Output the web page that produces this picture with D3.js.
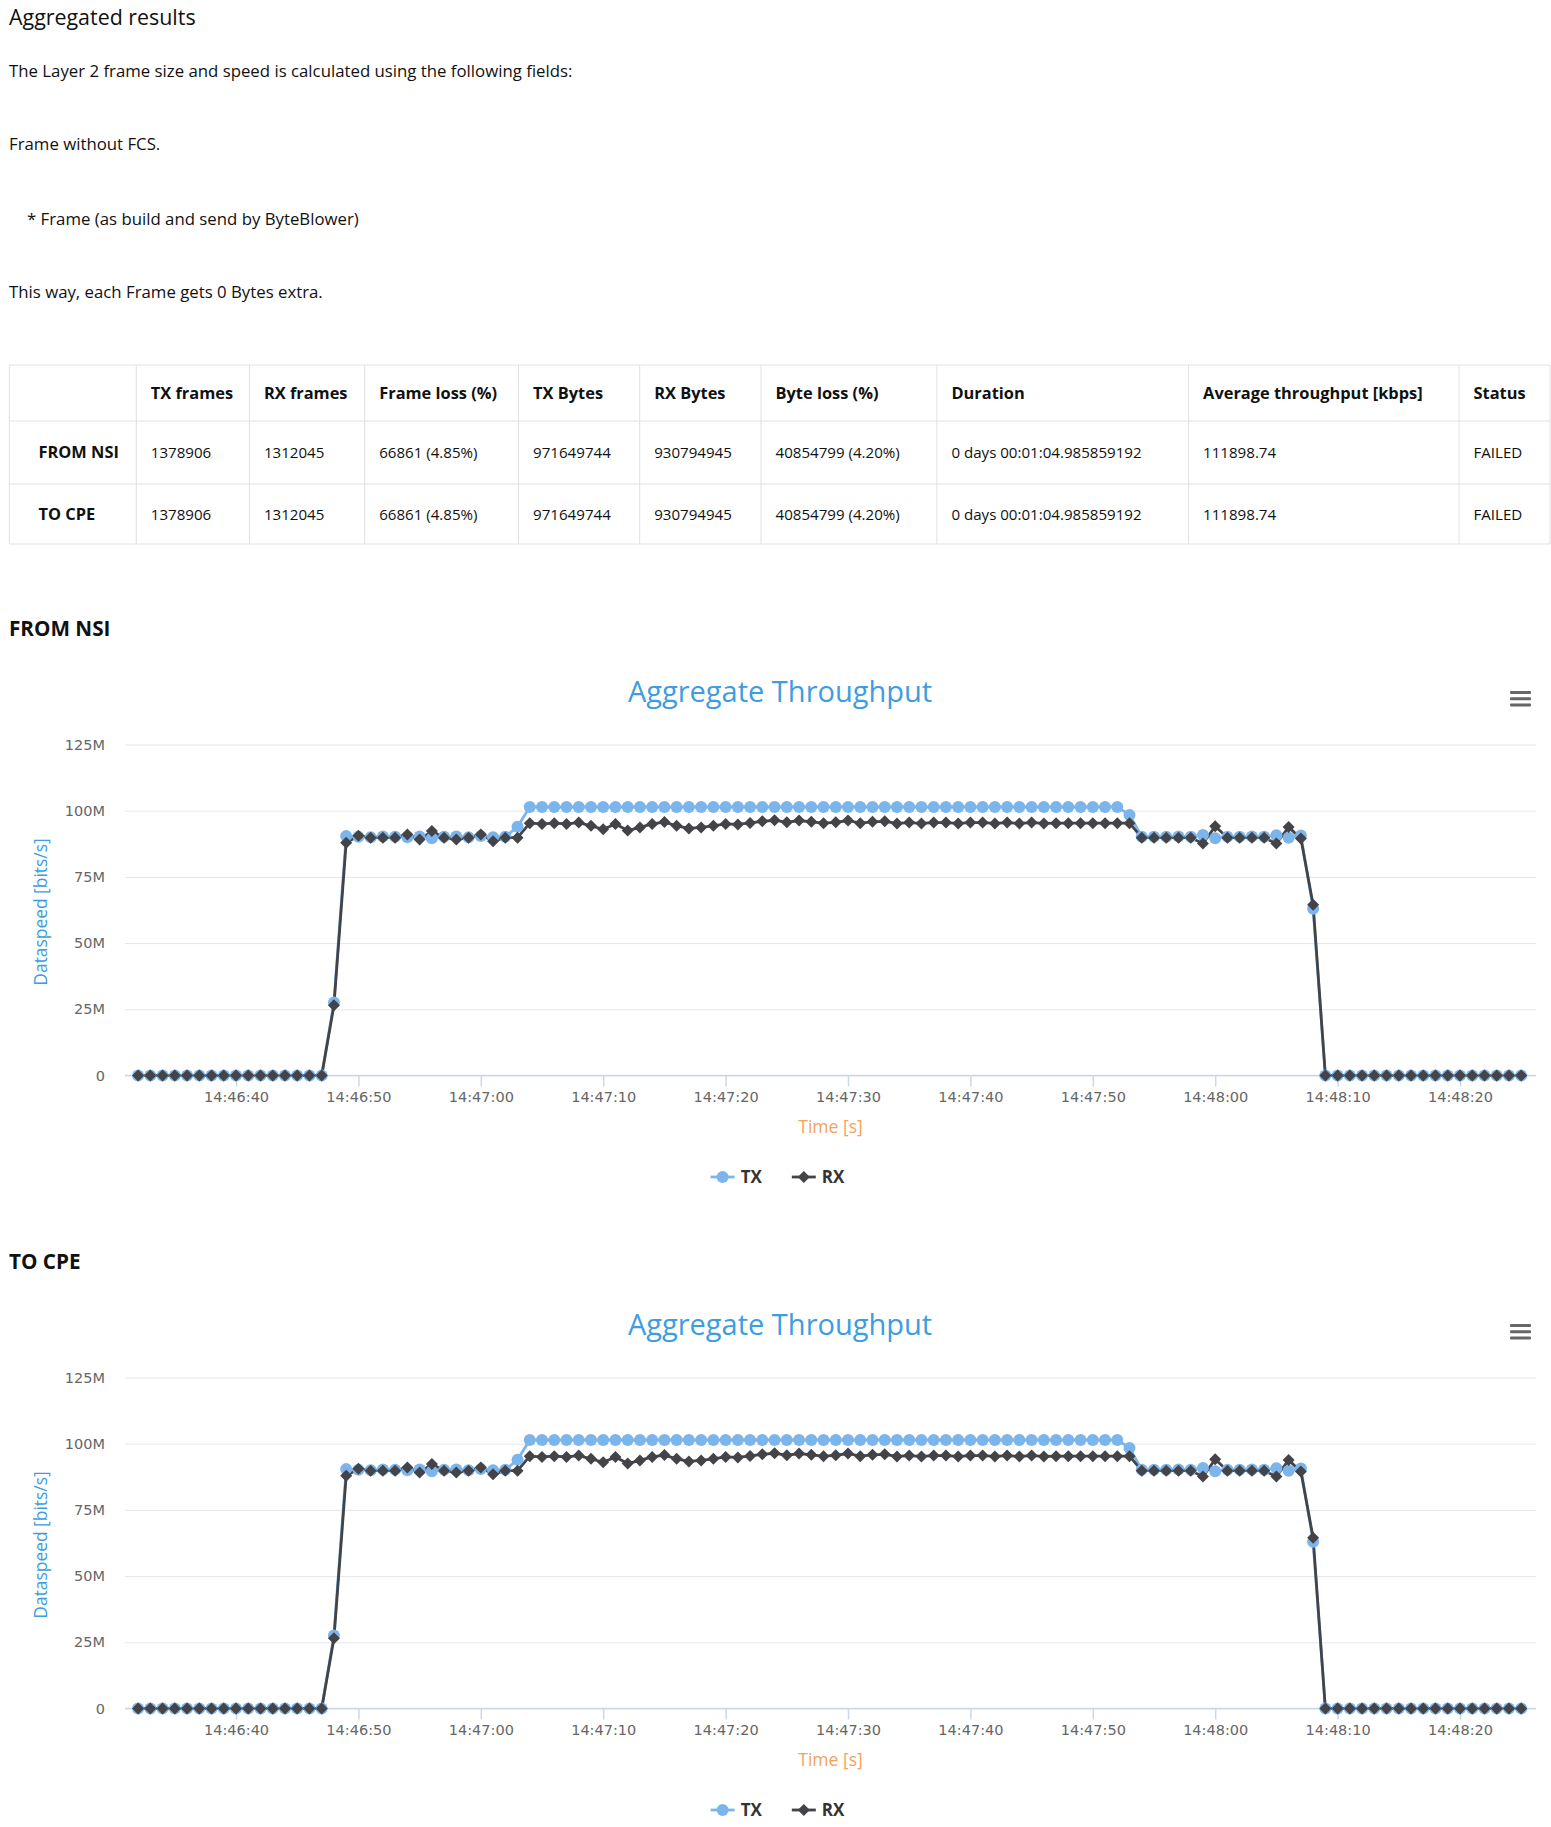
<!DOCTYPE html>
<html><head><meta charset="utf-8">
<script src="https://cdn.jsdelivr.net/npm/d3@7"></script>
<style>
html,body{margin:0;padding:0;background:#fff;}
svg{display:block;}
</style></head><body>
<svg id="page" width="1551" height="1827"></svg>
<script>
// ---------- data ----------
const pageHeading = "Aggregated results";
const introLines = [
  "The Layer 2 frame size and speed is calculated using the following fields:",
  "Frame without FCS.",
  "* Frame (as build and send by ByteBlower)",
  "This way, each Frame gets 0 Bytes extra."
];
const tableHeaders = ["", "TX frames", "RX frames", "Frame loss (%)", "TX Bytes", "RX Bytes", "Byte loss (%)", "Duration", "Average throughput [kbps]", "Status"];
const tableRows = [
  ["FROM NSI", "1378906", "1312045", "66861 (4.85%)", "971649744", "930794945", "40854799 (4.20%)", "0 days 00:01:04.985859192", "111898.74", "FAILED"],
  ["TO CPE", "1378906", "1312045", "66861 (4.85%)", "971649744", "930794945", "40854799 (4.20%)", "0 days 00:01:04.985859192", "111898.74", "FAILED"]
];
const sectionNames = ["FROM NSI", "TO CPE"];
const chartTitle = "Aggregate Throughput";
const yAxisTitle = "Dataspeed [bits/s]";
const xAxisTitle = "Time [s]";
const seriesNames = ["TX", "RX"];
const seriesColors = ["#7cb5ec", "#434348"];
const yTickValues = [0, 25, 50, 75, 100, 125];
const yTickLabels = ["0", "25M", "50M", "75M", "100M", "125M"];
const xTickLabels = ["14:46:40", "14:46:50", "14:47:00", "14:47:10", "14:47:20", "14:47:30", "14:47:40", "14:47:50", "14:48:00", "14:48:10", "14:48:20"];
const times = [
  "14:46:32","14:46:33","14:46:34","14:46:35","14:46:36","14:46:37","14:46:38","14:46:39","14:46:40","14:46:41",
  "14:46:42","14:46:43","14:46:44","14:46:45","14:46:46","14:46:47","14:46:48","14:46:49","14:46:50","14:46:51",
  "14:46:52","14:46:53","14:46:54","14:46:55","14:46:56","14:46:57","14:46:58","14:46:59","14:47:00","14:47:01",
  "14:47:02","14:47:03","14:47:04","14:47:05","14:47:06","14:47:07","14:47:08","14:47:09","14:47:10","14:47:11",
  "14:47:12","14:47:13","14:47:14","14:47:15","14:47:16","14:47:17","14:47:18","14:47:19","14:47:20","14:47:21",
  "14:47:22","14:47:23","14:47:24","14:47:25","14:47:26","14:47:27","14:47:28","14:47:29","14:47:30","14:47:31",
  "14:47:32","14:47:33","14:47:34","14:47:35","14:47:36","14:47:37","14:47:38","14:47:39","14:47:40","14:47:41",
  "14:47:42","14:47:43","14:47:44","14:47:45","14:47:46","14:47:47","14:47:48","14:47:49","14:47:50","14:47:51",
  "14:47:52","14:47:53","14:47:54","14:47:55","14:47:56","14:47:57","14:47:58","14:47:59","14:48:00","14:48:01",
  "14:48:02","14:48:03","14:48:04","14:48:05","14:48:06","14:48:07","14:48:08","14:48:09","14:48:10","14:48:11",
  "14:48:12","14:48:13","14:48:14","14:48:15","14:48:16","14:48:17","14:48:18","14:48:19","14:48:20","14:48:21",
  "14:48:22","14:48:23","14:48:24","14:48:25"
];
// values in Mbit/s
const txValues = [
  0,0,0,0,0,0,0,0,0,0,0,0,0,0,0,0,
  27.6, 90.4,
  90.2,90.0,90.3,90.2,90.0,90.3,89.6,90.2,90.3,90.0,90.4,90.0,90.2,
  93.9,
  101.4,101.4,101.4,101.4,101.4,101.4,101.4,101.4,101.4,101.4,
  101.4,101.4,101.4,101.4,101.4,101.4,101.4,101.4,101.4,101.4,
  101.4,101.4,101.4,101.4,101.4,101.4,101.4,101.4,101.4,101.4,
  101.4,101.4,101.4,101.4,101.4,101.4,101.4,101.4,101.4,101.4,
  101.4,101.4,101.4,101.4,101.4,101.4,101.4,101.4,101.4,
  98.4,
  90.2,90.2,90.2,90.3,90.2,90.8,89.6,90.2,90.2,90.3,90.2,90.7,89.8,90.6,
  63.0,
  0,0,0,0,0,0,0,0,0,0,0,0,0,0,0,0,0
];
const rxValues = [
  0,0,0,0,0,0,0,0,0,0,0,0,0,0,0,0,
  26.5, 87.9,
  90.5,89.8,89.8,89.8,91.0,89.1,92.3,89.8,89.1,89.8,91.0,88.5,89.8,
  89.8,
  95.3,95.0,95.3,95.0,95.5,94.3,93.0,95.0,92.5,93.7,
  95.0,95.7,94.3,93.3,93.7,94.3,95.0,94.8,95.4,96.0,
  96.4,95.6,96.3,95.8,95.3,95.6,96.3,95.3,95.8,96.0,
  95.2,95.5,95.2,95.5,95.5,95.2,95.5,95.5,95.2,95.5,
  95.2,95.5,95.2,95.3,95.3,95.3,95.3,95.3,95.3,
  95.3,
  89.8,89.8,89.8,89.8,89.8,87.6,94.1,89.8,89.8,89.8,89.8,87.6,93.8,89.5,
  64.5,
  0,0,0,0,0,0,0,0,0,0,0,0,0,0,0,0,0
];

// ---------- drawing ----------
const svg = d3.select("#page");
const TEXT = "#111";
const BODY_FONT = "'Open Sans', sans-serif";
const AXIS_FONT = "'DejaVu Sans', sans-serif";

// heading + intro text
svg.append("text").attr("x", 9).attr("y", 25)
  .attr("font-family", BODY_FONT).attr("font-size", 21.4).attr("font-weight", 500).attr("fill", TEXT)
  .text(pageHeading);
const introBaselines = [76.5, 150, 224.5, 298];
const introX = [9, 9, 27, 9];
svg.selectAll("text.intro").data(introLines).join("text")
  .attr("class", "intro")
  .attr("x", (d, i) => introX[i]).attr("y", (d, i) => introBaselines[i])
  .attr("font-family", BODY_FONT).attr("font-size", 16.8).attr("fill", TEXT)
  .text(d => d);

// table
const colEdges = [9.3, 136.3, 249.4, 364.7, 518.6, 639.7, 761, 936.9, 1188.6, 1459, 1550];
const rowEdges = [365, 421, 484, 544];
const tbl = svg.append("g");
tbl.selectAll("line.h").data(rowEdges).join("line")
  .attr("x1", colEdges[0]).attr("x2", colEdges[colEdges.length - 1])
  .attr("y1", d => d).attr("y2", d => d)
  .attr("stroke", "#dee2e6").attr("stroke-width", 1);
tbl.selectAll("line.v").data(colEdges).join("line")
  .attr("x1", d => d).attr("x2", d => d)
  .attr("y1", rowEdges[0]).attr("y2", rowEdges[rowEdges.length - 1])
  .attr("stroke", "#dee2e6").attr("stroke-width", 1);
const allRows = [tableHeaders].concat(tableRows);
allRows.forEach((row, ri) => {
  const cy = (rowEdges[ri] + rowEdges[ri + 1]) / 2;
  row.forEach((cell, ci) => {
    if (!cell) return;
    const bold = ri === 0 || ci === 0;
    const x = ci === 0 ? 38.5 : colEdges[ci] + 14.5;
    tbl.append("text").attr("x", x).attr("y", cy + 5.6)
      .attr("font-family", BODY_FONT).attr("font-size", bold ? 16.4 : 15.1)
      .attr("font-weight", bold ? 700 : 400).attr("fill", TEXT)
      .text(cell);
  });
});

// charts
const parseT = d3.timeParse("%H:%M:%S");
const points = times.map((t, i) => ({ t: parseT(t), tx: txValues[i], rx: rxValues[i] }));

function drawChart(offsetY, sectionName) {
  const g = svg.append("g").attr("transform", `translate(0,${offsetY})`);
  g.append("text").attr("x", 9).attr("y", 635.5)
    .attr("font-family", BODY_FONT).attr("font-size", 20.7).attr("font-weight", 700).attr("fill", "#111")
    .text(sectionName);

  const plot = { left: 125, right: 1536, top: 744.5, bottom: 1075.5 };
  const x = d3.scaleTime().domain(d3.extent(points, d => d.t)).range([138.1, 1521.2]);
  const y = d3.scaleLinear().domain([0, 125]).range([plot.bottom, plot.top]);

  // title
  g.append("text").attr("x", 780).attr("y", 702).attr("text-anchor", "middle")
    .attr("font-family", BODY_FONT).attr("font-size", 29).attr("fill", "#3d9de0")
    .text(chartTitle);

  // menu button
  g.selectAll("rect.menu").data([0, 1, 2]).join("rect")
    .attr("x", 1510).attr("y", d => 691 + d * 6.2).attr("width", 21).attr("height", 3)
    .attr("rx", 1).attr("fill", "#666");

  // y grid + labels
  const yg = g.append("g").attr("transform", `translate(${plot.left},0)`)
    .call(d3.axisLeft(y).tickValues(yTickValues).tickFormat((d, i) => yTickLabels[i])
      .tickSize(-(plot.right - plot.left)).tickPadding(20));
  yg.select(".domain").remove();
  yg.selectAll(".tick line").attr("stroke", "#e6e6e6");
  yg.selectAll(".tick text").attr("fill", "#666").attr("font-family", AXIS_FONT).attr("font-size", 14.5);

  // y title
  g.append("text")
    .attr("transform", `translate(46.5,${(plot.top + plot.bottom) / 2 + 2}) rotate(-90)`)
    .attr("text-anchor", "middle")
    .attr("font-family", BODY_FONT).attr("font-size", 17.4).attr("fill", "#3d9de0")
    .text(yAxisTitle);

  // x axis line
  g.append("line").attr("x1", plot.left).attr("x2", plot.right)
    .attr("y1", plot.bottom).attr("y2", plot.bottom).attr("stroke", "#ccd6eb").attr("stroke-width", 1.5);
  const xg = g.append("g").attr("transform", `translate(0,${plot.bottom})`)
    .call(d3.axisBottom(x).tickValues(xTickLabels.map(parseT)).tickFormat((d, i) => xTickLabels[i])
      .tickSizeOuter(0).tickSize(11).tickPadding(5));
  xg.select(".domain").remove();
  xg.selectAll(".tick line").attr("stroke", "#ccd6eb").attr("stroke-width", 1.5);
  xg.selectAll(".tick text").attr("fill", "#666").attr("font-family", AXIS_FONT).attr("font-size", 14.5);

  // x title
  g.append("text").attr("x", (plot.left + plot.right) / 2).attr("y", 1132.5).attr("text-anchor", "middle")
    .attr("font-family", BODY_FONT).attr("font-size", 17.5).attr("fill", "#f4a25b")
    .text(xAxisTitle);

  // series
  const keys = ["tx", "rx"];
  const R = 6;
  keys.forEach((k, si) => {
    const line = d3.line().x(d => x(d.t)).y(d => y(d[k]));
    g.append("path").datum(points).attr("d", line)
      .attr("fill", "none").attr("stroke", seriesColors[si]).attr("stroke-width", 2.8)
      .attr("stroke-linejoin", "round").attr("stroke-linecap", "round");
  });
  keys.forEach((k, si) => {
    const mg = g.append("g");
    if (si === 0) {
      mg.selectAll("circle").data(points).join("circle")
        .attr("cx", d => x(d.t)).attr("cy", d => y(d[k])).attr("r", R).attr("fill", seriesColors[si]);
    } else {
      const sq = d3.symbol(d3.symbolSquare, (R * Math.SQRT2) ** 2);
      mg.selectAll("path").data(points).join("path")
        .attr("d", sq)
        .attr("transform", d => `translate(${x(d.t)},${y(d[k])}) rotate(45)`)
        .attr("fill", seriesColors[si]);
    }
  });

  // legend
  const lg = g.append("g");
  const items = seriesNames.map((name, i) => {
    const it = lg.append("g");
    it.append("line").attr("x1", 0).attr("x2", 24).attr("y1", 0).attr("y2", 0)
      .attr("stroke", seriesColors[i]).attr("stroke-width", 2.8);
    if (i === 0) it.append("circle").attr("cx", 12).attr("cy", 0).attr("r", R).attr("fill", seriesColors[i]);
    else it.append("path").attr("d", d3.symbol(d3.symbolSquare, (R * Math.SQRT2) ** 2))
      .attr("transform", "translate(12,0) rotate(45)").attr("fill", seriesColors[i]);
    const tx = it.append("text").attr("x", 30).attr("y", 6)
      .attr("font-family", BODY_FONT).attr("font-size", 17).attr("font-weight", 700).attr("fill", "#333")
      .text(name);
    return { g: it, w: 30 + tx.node().getComputedTextLength() };
  });
  const gap = 30;
  const total = d3.sum(items, d => d.w) + gap * (items.length - 1);
  let cx = 777.5 - total / 2;
  items.forEach(d => { d.g.attr("transform", `translate(${cx},1177)`); cx += d.w + gap; });
}

sectionNames.forEach((name, i) => drawChart(i * 633, name));
</script>
</body></html>
